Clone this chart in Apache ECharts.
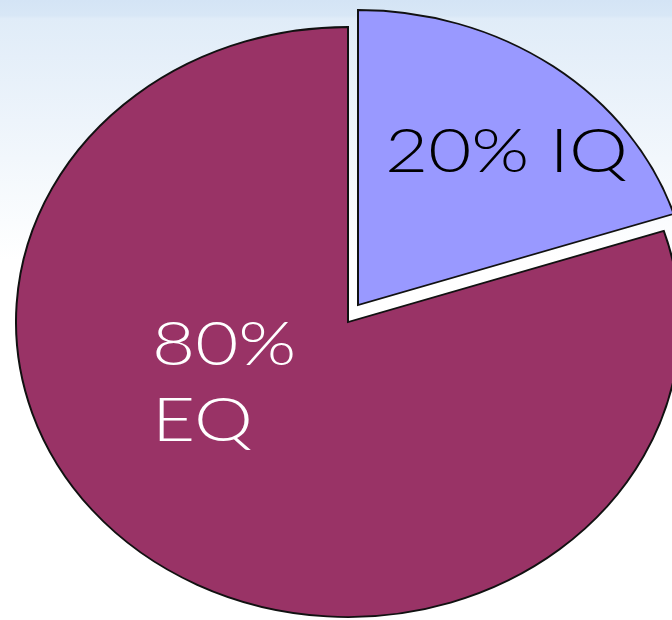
<!DOCTYPE html>
<html>
<head>
<meta charset="utf-8">
<script src="https://cdn.jsdelivr.net/npm/echarts@6/dist/echarts.min.js"></script>
<style>
  html, body { margin: 0; padding: 0; background: #ffffff; }
  #chart { width: 672px; height: 620px; }
</style>
</head>
<body>
<div id="chart"></div>
<script>
// ---- data ----
const categories = ['IQ', 'EQ'];
const values = [20, 80];
const labelTexts = ['20% IQ', '80%\nEQ'];

// ---- styles / layout ----
const colors = ['#9999FF', '#993366'];
const labelColors = ['#000000', '#ffffff'];
const center = [348, 322];
const radiusX = 332;
const radiusY = 295;
const explodeOffsets = [[10, -17], [0, 0]];
const labelPos = [[385, 152], [152, 383]];
const fontFamily = 'Lato, "Noto Sans", sans-serif';

const total = values.reduce((a, b) => a + b, 0);
const startAngles = [];
let acc = -Math.PI / 2;
values.forEach(v => { startAngles.push(acc); acc += v / total * Math.PI * 2; });

const chart = echarts.init(document.getElementById('chart'), null, { renderer: 'canvas' });
chart.setOption({
  animation: false,
  backgroundColor: {
    type: 'linear', x: 0, y: 0, x2: 0, y2: 1,
    colorStops: [
      { offset: 0, color: '#d4e4f5' },
      { offset: 0.025, color: '#d8e7f6' },
      { offset: 0.03, color: '#e0ecf8' },
      { offset: 0.42, color: '#ffffff' },
      { offset: 1, color: '#ffffff' }
    ]
  },
  series: [{
    type: 'custom',
    coordinateSystem: 'none',
    data: categories.map((c, i) => ({ name: c, value: values[i] })),
    renderItem: function (params, api) {
      const i = params.dataIndex;
      const v = api.value(0);
      const s = startAngles[i];
      const e = s + v / total * Math.PI * 2;
      const off = explodeOffsets[i];
      return {
        type: 'group',
        children: [
          {
            type: 'sector',
            shape: { cx: center[0], cy: center[1], r: radiusX, r0: 0, startAngle: s, endAngle: e, clockwise: true },
            x: off[0], y: off[1],
            originX: center[0], originY: center[1],
            scaleY: radiusY / radiusX,
            style: { fill: colors[i], stroke: '#111111', lineWidth: 2, strokeNoScale: true }
          },
          {
            type: 'text',
            x: labelPos[i][0], y: labelPos[i][1],
            scaleX: 1.2,
            style: {
              text: labelTexts[i],
              fill: labelColors[i],
              fontSize: 62,
              fontFamily: fontFamily,
              fontWeight: 300,
              lineHeight: 76,
              align: 'left',
              verticalAlign: 'middle'
            }
          }
        ]
      };
    }
  }]
});
</script>
</body>
</html>
